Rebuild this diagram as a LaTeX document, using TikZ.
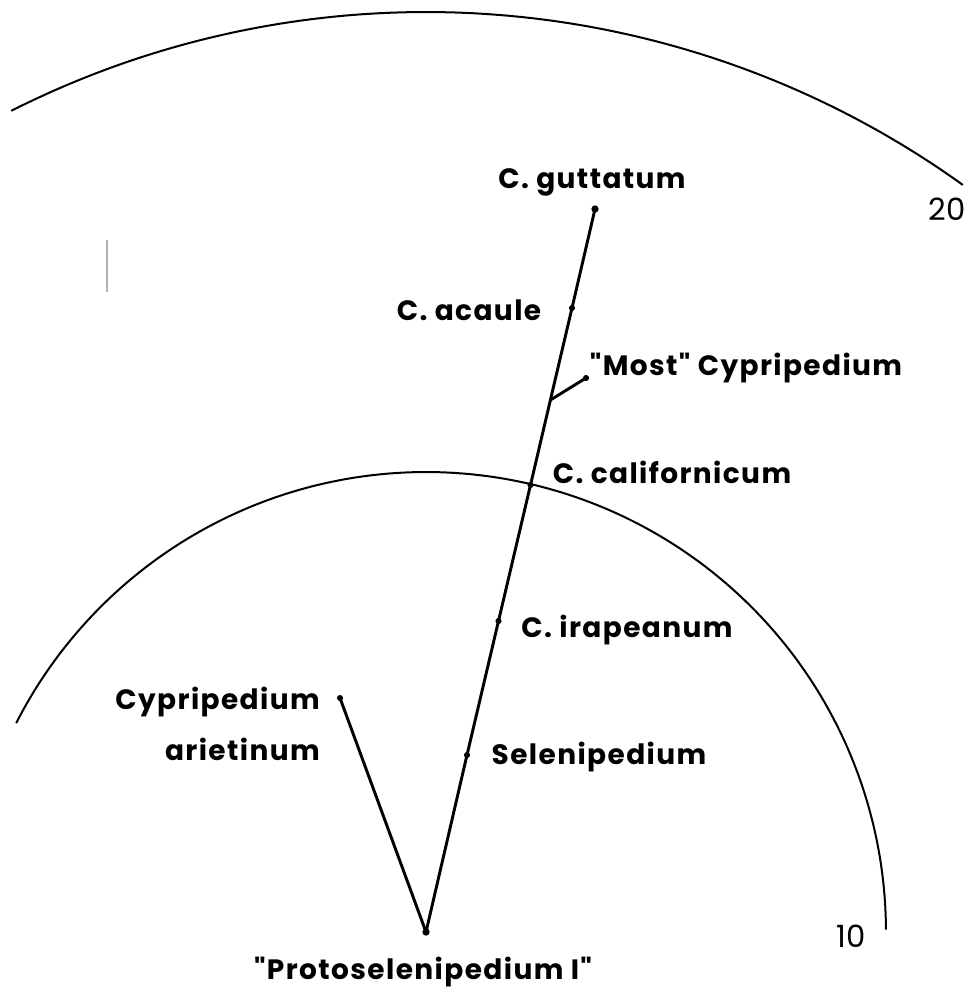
\documentclass[tikz,border=0pt]{standalone}
\usepackage{fontspec}
\setmainfont{Poppins}[Ligatures=TeXOff,LetterSpace=5]
\newfontfamily\numfont{Poppins}[Ligatures=TeXOff]
\begin{document}
\begin{tikzpicture}[x=0.75pt,y=-0.75pt,
  dot/.style={circle,fill=black,inner sep=0pt,minimum size=5.5pt},
  sdot/.style={dot,minimum size=4.6pt},
  lbl/.style={font=\fontsize{21}{25}\selectfont\bfseries,inner sep=0pt},
  num/.style={font=\numfont\fontsize{23}{26}\selectfont,inner sep=0pt},
  br/.style={line width=2.2pt,line cap=round},
  ring/.style={line width=1.5pt}]
\useasboundingbox (0,0) rectangle (966,993);
% arcs
\draw[ring] plot[domain=0.3:153,samples=150] ({426+460*cos(\x)},{932-460*sin(\x)});
\draw[ring] plot[domain=54.3:116.8,samples=150] ({426+920*cos(\x)},{932-920*sin(\x)});
\draw[gray!60,line width=1pt] (107,240) -- (107,292);
% dots
\node[dot] (P) at (426,932) {};
\node[dot] (gut) at (595,209) {};
\node[sdot] (aca) at (572,308) {};
\node[sdot] (cal) at (530.5,485) {};
\node[sdot] (ira) at (498.5,621) {};
\node[sdot] (sel) at (467,755) {};
\node[sdot] (ari) at (340,698) {};
\node[sdot] (most) at (586,378) {};
\coordinate (mj) at (550.4,400);
% branches
\draw[br] (P.center) -- (sel.center) -- (ira.center) -- (cal.center) -- (mj) -- (aca.center) -- (gut.center);
\draw[br] (P.center) -- (ari.center);
\draw[br] (mj) -- (most.center);
% labels
\node[lbl] (tgut) at (592,182) {C. guttatum};
\node[lbl] (taca) at (469,310) {C. acaule};
\node[lbl] (tmost) at (746,368) {"Most" Cypripedium};
\node[lbl] (tcal) at (672,472) {C. californicum};
\node[lbl] (tira) at (627,630) {C. irapeanum};
\node[lbl] (tsel) at (599,757) {Selenipedium};
\node[lbl,align=right,anchor=east] (tari) at (320,724) {Cypripedium\\[13pt]arietinum};
\node[lbl] (tP) at (423,972) {"Protoselenipedium I"};
\node[num] (t10) at (851,936) {10};
\node[num] (t20) at (947,209) {20};
\end{tikzpicture}
\end{document}
